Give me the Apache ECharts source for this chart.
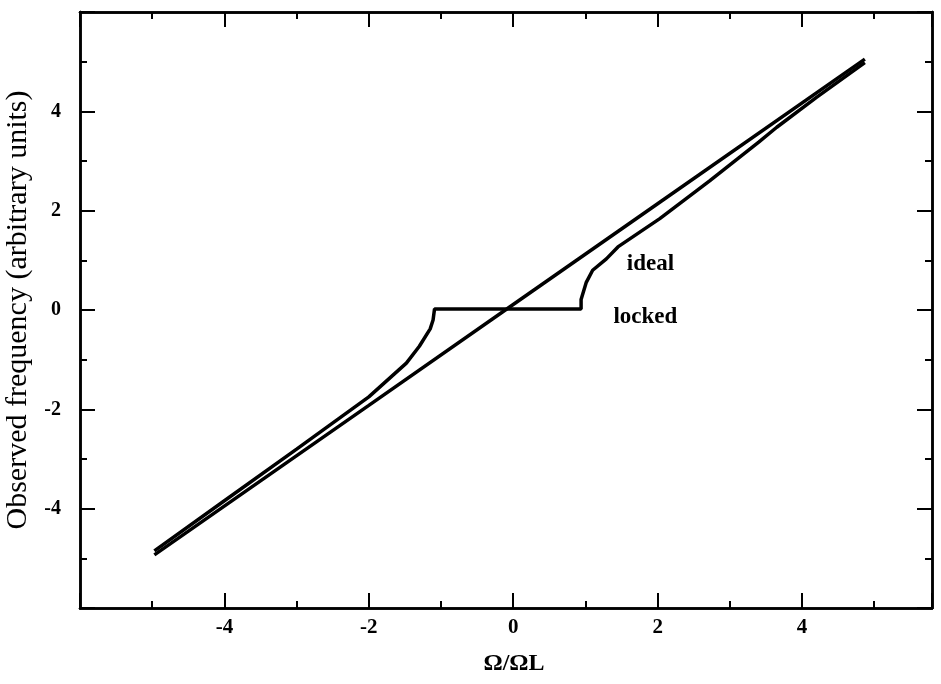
<!DOCTYPE html>
<html><head><meta charset="utf-8">
<script src="https://cdn.jsdelivr.net/npm/echarts@6/dist/echarts.min.js"></script>
<style>html,body{margin:0;padding:0;background:#fff}#c{width:941px;height:684px}</style>
</head><body><div id="c"></div>
<script>
// ---- data ----
const idealX = [-4.97, -2, 0, 2, 4.87];
const idealY = [-4.93, -1.92, 0.11, 2.14, 5.05];

const lockedX = [-4.97, -4, -3, -2, -1.48, -1.3, -1.15, -1.11, -1.09, 0.94, 0.94, 1.01, 1.1, 1.29, 1.45, 2.03, 2.72, 3.4, 3.65, 4.2, 4.87];
const lockedY = [-4.85, -3.84, -2.8, -1.75, -1.07, -0.73, -0.38, -0.2, 0.02, 0.02, 0.21, 0.55, 0.8, 1.03, 1.27, 1.84, 2.6, 3.38, 3.68, 4.28, 4.98];

const xTickLabels = ['-4', '-2', '0', '2', '4'];
const yTickLabels = ['-4', '-2', '0', '2', '4'];

const annotations = [
  { text: 'ideal', x: 1.9, y: 0.93 },
  { text: 'locked', x: 1.83, y: -0.14 }
];

const xTitle = 'Ω/ΩL';
const yTitle = 'Observed frequency (arbitrary units)';

// ---- chart ----
const serif = '"Liberation Serif", "DejaVu Serif", serif';
const chart = echarts.init(document.getElementById('c'), null, { renderer: 'canvas' });

function xAx(pos, interval, len, main) {
  return {
    type: 'value', position: pos, min: -6, max: 5.8, interval: interval,
    axisLine: { show: true, onZero: false, lineStyle: { color: '#000', width: 2.5 } },
    axisTick: { show: true, inside: true, length: len, lineStyle: { color: '#000', width: 2 } },
    axisLabel: {
      show: main, margin: 9, color: '#000', fontFamily: serif, fontWeight: 'bold', fontSize: 21,
      formatter: v => xTickLabels.includes(String(v)) ? String(v) : ''
    },
    splitLine: { show: false },
    name: main ? xTitle : '', nameLocation: 'middle', nameGap: 44,
    nameTextStyle: { color: '#000', fontFamily: serif, fontWeight: 'bold', fontSize: 24, padding: [0, 0, 0, 16] }
  };
}
function yAx(pos, interval, len, main) {
  return {
    type: 'value', position: pos, min: -6, max: 6, interval: interval,
    axisLine: { show: true, onZero: false, lineStyle: { color: '#000', width: 2.5 } },
    axisTick: { show: true, inside: true, length: len, lineStyle: { color: '#000', width: 2 } },
    axisLabel: {
      show: main, margin: 19, color: '#000', fontFamily: serif, fontWeight: 'bold', fontSize: 20,
      formatter: v => yTickLabels.includes(String(v)) ? String(v) : ''
    },
    splitLine: { show: false },
    name: main ? yTitle : '', nameLocation: 'middle', nameGap: 46, nameRotate: 90,
    nameTextStyle: { color: '#000', fontFamily: serif, fontSize: 30 }
  };
}

const idealData = idealX.map((x, i) => [x, idealY[i]]);
const lockedData = lockedX.map((x, i) => [x, lockedY[i]]);

chart.setOption({
  animation: false,
  backgroundColor: '#fff',
  grid: { left: 80, top: 12, width: 852, height: 596, show: false, containLabel: false, outerBoundsMode: 'none' },
  xAxis: [xAx('bottom', 1, 7, false), xAx('bottom', 2, 15, true), xAx('top', 1, 7, false), xAx('top', 2, 15, false)],
  yAxis: [yAx('left', 1, 7, false), yAx('left', 2, 15, true), yAx('right', 1, 7, false), yAx('right', 2, 15, false)],
  series: [
    { type: 'line', name: 'ideal', data: idealData, showSymbol: false, symbol: 'none',
      lineStyle: { color: '#000', width: 3.5 }, xAxisIndex: 0, yAxisIndex: 0 },
    { type: 'line', name: 'locked', data: lockedData, showSymbol: false, symbol: 'none',
      lineStyle: { color: '#000', width: 3.5 }, xAxisIndex: 0, yAxisIndex: 0 },
    { type: 'scatter', data: annotations.map(a => ({ value: [a.x, a.y], name: a.text })),
      symbolSize: 0, xAxisIndex: 0, yAxisIndex: 0, itemStyle: { opacity: 1 },
      label: { show: true, position: 'inside', formatter: p => p.name, color: '#000', opacity: 1,
        fontFamily: serif, fontWeight: 'bold', fontSize: 23 } }
  ]
});
</script></body></html>
